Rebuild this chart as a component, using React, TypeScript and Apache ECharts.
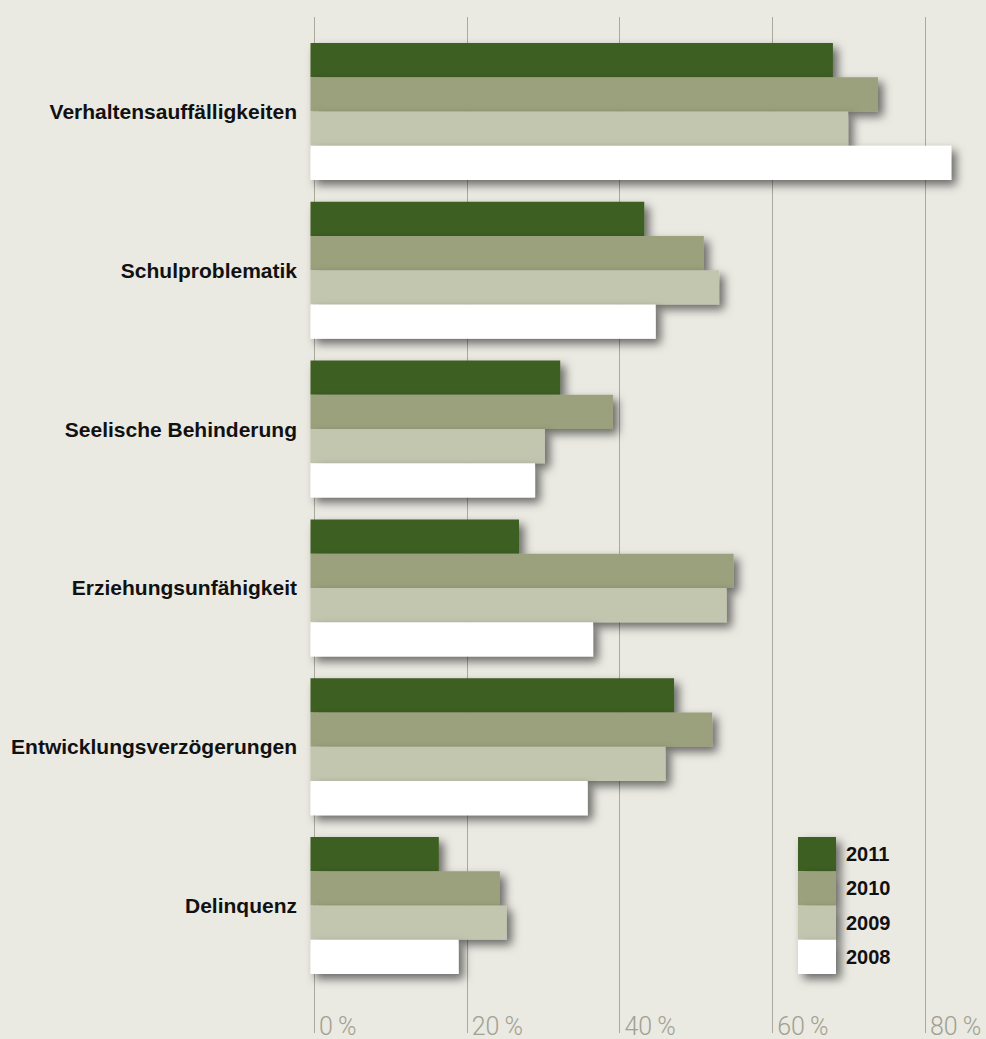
import React, { useEffect, useRef } from "react";
import * as echarts from "echarts";

const categories = [
  "Verhaltensauffälligkeiten",
  "Schulproblematik",
  "Seelische Behinderung",
  "Erziehungsunfähigkeit",
  "Entwicklungsverzögerungen",
  "Delinquenz",
];
const years = ["2011", "2010", "2009", "2008"];
const values2011 = [68.4, 43.7, 32.7, 27.3, 47.6, 16.8];
const values2010 = [74.3, 51.5, 39.6, 55.4, 52.6, 24.8];
const values2009 = [70.4, 53.5, 30.7, 54.5, 46.5, 25.7];
const values2008 = [83.9, 45.2, 29.4, 37.0, 36.3, 19.4];
const seriesValues = [values2011, values2010, values2009, values2008];
const colors = ["#3e5e22", "#9ba17b", "#c3c6af", "#ffffff"];
const tickValues = [0, 20, 40, 60, 80];

const shadow = {
  shadowBlur: 10,
  shadowOffsetX: 5,
  shadowOffsetY: 5,
  shadowColor: "rgba(0,0,0,0.55)",
};

export default function App() {
  const ref = useRef<HTMLDivElement>(null);
  useEffect(() => {
    document.body.style.margin = "0";
    const chart = echarts.init(ref.current!, null, { renderer: "svg" });
    const pxPerPct = 7.6375;
    const barMax = 85;
    chart.setOption({
      animation: false,
      backgroundColor: "#eae9e2",
      grid: [
        { left: 310.5, top: 32.1, width: barMax * pxPerPct, height: 952.8 },
        { left: 314, top: 17, width: 80 * pxPerPct, height: 1016 },
      ],
      xAxis: [
        {
          gridIndex: 0,
          type: "value",
          min: 0,
          max: barMax,
          show: false,
        },
        {
          gridIndex: 1,
          type: "value",
          min: tickValues[0],
          max: tickValues[tickValues.length - 1],
          interval: 20,
          axisLine: { show: false },
          axisTick: { show: false },
          splitLine: { show: true, lineStyle: { color: "#a9aa9c", width: 1 } },
          axisLabel: {
            inside: true,
            margin: -5,
            align: "left",
            verticalAlign: "bottom",
            lineHeight: 24,
            padding: [0, 0, 0, 5],
            color: "#9fa192",
            fontSize: 25,
            fontFamily: "Roboto",
            fontWeight: 300,
            formatter: (v: number) => `${v}\u2009%`,
          },
        },
      ],
      yAxis: [
        {
          gridIndex: 0,
          type: "category",
          data: categories,
          inverse: true,
          axisLine: { show: false },
          axisTick: { show: false },
          splitLine: { show: false },
          axisLabel: {
            margin: 13.5,
            color: "#111111",
            fontSize: 21,
            fontWeight: "bold",
            fontFamily: "Liberation Sans",
          },
        },
        {
          gridIndex: 1,
          type: "category",
          data: [""],
          show: false,
        },
      ],
      legend: {
        data: years,
        orient: "vertical",
        left: 798,
        top: 837,
        itemWidth: 38,
        itemHeight: 34.25,
        itemGap: 0,
        icon: "rect",
        padding: 0,
        itemStyle: { ...shadow },
        textStyle: {
          color: "#111111",
          fontSize: 20,
          fontWeight: "bold",
          fontFamily: "Liberation Sans",
          padding: [0, 0, 0, 5],
        },
      },
      series: years.map((y, i) => ({
        name: y,
        type: "bar",
        xAxisIndex: 0,
        yAxisIndex: 0,
        data: seriesValues[i],
        barWidth: 34.25,
        barGap: "0%",
        itemStyle: { color: colors[i], ...shadow },
        emphasis: { disabled: true },
      })),
    });
    return () => chart.dispose();
  }, []);
  return (
    <div
      ref={ref}
      style={{ position: "absolute", left: 0, top: 0, width: 986, height: 1039 }}
    />
  );
}
